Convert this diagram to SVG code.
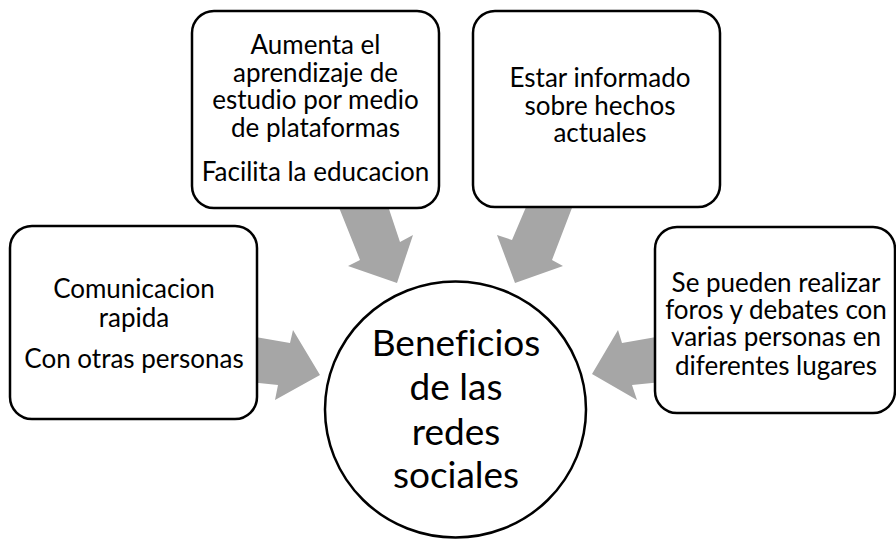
<svg xmlns="http://www.w3.org/2000/svg" width="896" height="539" viewBox="0 0 896 539">
<style>
.arrow{fill:#A6A6A6;stroke:none}
.box{fill:#FFFFFF;stroke:#000000;stroke-width:2.5}
.t{font-family:Lato,"Liberation Sans",sans-serif;font-size:26px;fill:#000000;text-anchor:middle;font-variant-ligatures:none}
.c{font-family:Lato,"Liberation Sans",sans-serif;font-size:37px;fill:#000000;text-anchor:middle;font-variant-ligatures:none}
</style>
<rect x="0" y="0" width="896" height="539" fill="#FFFFFF"/>
<g id="connectors">
<polygon class="arrow" points="336,200 360,260 348,266 397,283 413,235 400,242 386,200"/>
<polygon class="arrow" points="529,200 512,240 497,235 515,283 563,266 552,260 575,200"/>
<polygon class="arrow" points="250,336 290,343 293,330 320,375 275,400 278,385 250,382"/>
<polygon class="arrow" points="662,336 622,343 618,330 592,374 637,400 632,385 662,382"/>
</g>
<g id="node-aprendizaje">
<rect class="box" x="192" y="11" width="247" height="197" rx="22"/>
<text class="t" x="315.5" y="54">Aumenta el</text>
<text class="t" x="315.5" y="82">aprendizaje de</text>
<text class="t" x="315.5" y="109">estudio por medio</text>
<text class="t" x="315.5" y="137">de plataformas</text>
<text class="t" x="315.5" y="181">Facilita la educacion</text>
</g>
<g id="node-informado">
<rect class="box" x="473" y="11" width="247" height="196" rx="22"/>
<text class="t" x="600" y="87">Estar informado</text>
<text class="t" x="600" y="115">sobre hechos</text>
<text class="t" x="600" y="142">actuales</text>
</g>
<g id="node-comunicacion">
<rect class="box" x="10" y="226" width="247" height="193" rx="22"/>
<text class="t" x="134" y="298">Comunicacion</text>
<text class="t" x="134" y="327">rapida</text>
<text class="t" x="134" y="368">Con otras personas</text>
</g>
<g id="node-foros">
<rect class="box" x="655" y="227" width="240" height="186" rx="22"/>
<text class="t" x="776" y="292">Se pueden realizar</text>
<text class="t" x="776" y="319">foros y debates con</text>
<text class="t" x="776" y="346">varias personas en</text>
<text class="t" x="776" y="375">diferentes lugares</text>
</g>
<g id="node-center">
<ellipse class="box" cx="455.5" cy="409.5" rx="130.5" ry="128"/>
<text class="c" x="456" y="356">Beneficios</text>
<text class="c" x="456" y="400">de las</text>
<text class="c" x="456" y="445">redes</text>
<text class="c" x="456" y="488">sociales</text>
</g>
</svg>
